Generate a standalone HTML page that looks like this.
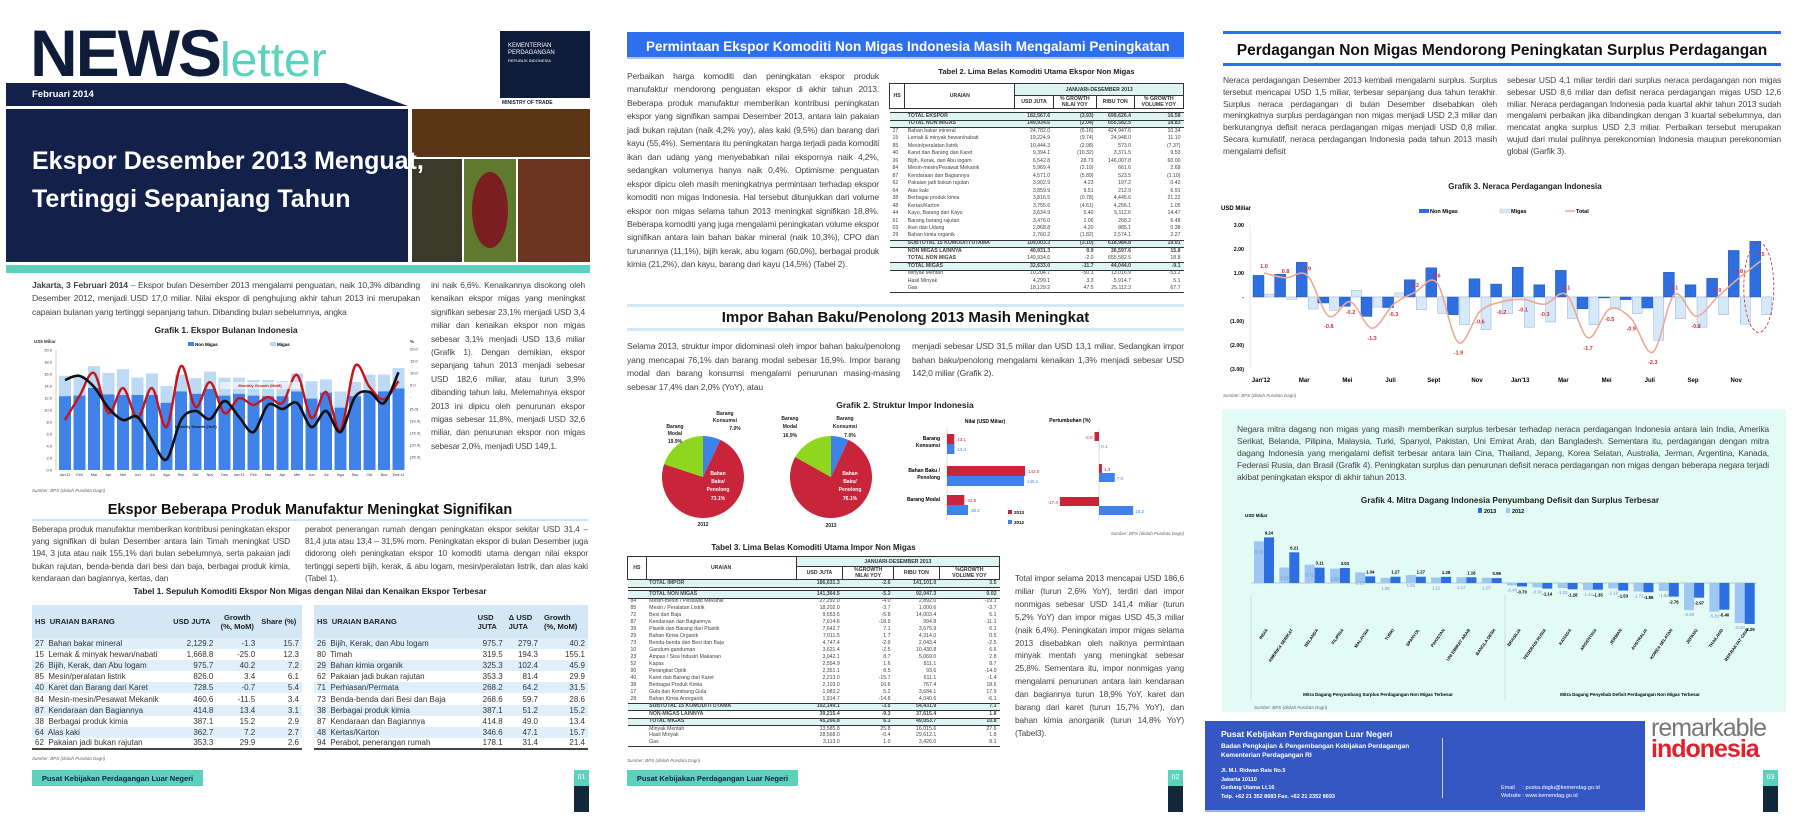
<!DOCTYPE html>
<html><head><meta charset="utf-8">
<style>
*{margin:0;padding:0;box-sizing:border-box}
body{width:1811px;height:818px;position:relative;background:#fff;font-family:"Liberation Sans",sans-serif;overflow:hidden;color:#333}
.a{position:absolute}
.p{position:absolute;font-size:8.7px;line-height:13.4px;text-align:justify;color:#444;letter-spacing:-0.15px}
.nb{font-family:"Liberation Sans",sans-serif;font-weight:bold}
table{border-collapse:collapse}
.t1 td{font-size:8px;height:11.1px;padding:0 3px;white-space:nowrap;color:#333}
.t1 tr:nth-child(even) td{background:#e1effa}
.t1 th{background:#d4e7f5;font-size:7.6px;height:33px;padding:0 3px;text-align:left;color:#222}
.tt td{font-size:5.2px;padding:0 3px;white-space:nowrap;color:#444;line-height:1}
.tt th{font-size:5.2px;font-weight:bold;color:#333;border:1px solid #333;padding:0 2px;background:#fff}
.tt .hl td{background:#dff5f1;font-weight:bold;border-top:1px solid #333;border-bottom:1px solid #333}
.r{text-align:right}
</style></head><body>

<!-- PANEL 1 -->
<div class="a nb" style="left:30px;top:20px;font-size:66px;color:#0e1c3a;letter-spacing:-2px;line-height:66px">NEWS<span style="color:#5bd3bc;font-size:48px;font-weight:normal;letter-spacing:0">letter</span></div>
<div class="a" style="left:500px;top:31px;width:90px;height:67px;background:#0e1c3a;color:#fff;font-size:6px;padding:12px 8px;line-height:7px">KEMENTERIAN<br>PERDAGANGAN<br><span style="font-size:4px">REPUBLIK INDONESIA</span></div>
<div class="a nb" style="left:502px;top:100px;font-size:5px;color:#0e1c3a">MINISTRY OF TRADE</div>
<svg class="a" style="left:0;top:0" width="600" height="280">
<polygon points="6,83 345,83 408,106 6,106" fill="#13204a"/>
<rect x="6" y="109" width="402" height="153" fill="#13204a"/>
<rect x="412" y="109" width="178" height="48" fill="#5a3516"/>
<rect x="412" y="159" width="50" height="103" fill="#3b3a2a"/>
<rect x="464" y="159" width="52" height="103" fill="#5f7a2f"/>
<ellipse cx="490" cy="210" rx="18" ry="38" fill="#7a1e22"/>
<rect x="518" y="159" width="72" height="103" fill="#6b3320"/>
<rect x="6" y="265" width="584" height="8" fill="#5bd3bc"/>
</svg>
<div class="a nb" style="left:32px;top:89px;font-size:9.5px;color:#fff">Februari 2014</div>
<div class="a nb" style="left:32px;top:142px;font-size:25px;line-height:38px;color:#fff">Ekspor Desember 2013 Menguat,<br>Tertinggi Sepanjang Tahun</div>

<div class="p" style="left:32px;top:279px;width:388px;font-size:8.6px"><b>Jakarta, 3 Februari 2014</b> – Ekspor bulan Desember 2013 mengalami penguatan, naik 10,3% dibanding Desember 2012, menjadi USD 17,0 miliar. Nilai ekspor di penghujung akhir tahun 2013 ini merupakan capaian bulanan yang tertinggi sepanjang tahun. Dibanding bulan sebelumnya, angka</div>
<div class="p" style="left:431px;top:279px;width:154px;font-size:8.4px">ini naik 6,6%. Kenaikannya disokong oleh kenaikan ekspor migas yang meningkat signifikan sebesar 23,1% menjadi USD 3,4 miliar dan kenaikan ekspor non migas sebesar 3,1% menjadi USD 13,6 miliar (Grafik 1). Dengan demikian, ekspor sepanjang tahun 2013 menjadi sebesar USD 182,6 miliar, atau turun 3,9% dibanding tahun lalu. Melemahnya ekspor 2013 ini dipicu oleh penurunan ekspor migas sebesar 11,8%, menjadi USD 32,6 miliar, dan penurunan ekspor non migas sebesar 2,0%, menjadi USD 149,1.</div>

<div class="a nb" style="left:32px;top:325px;width:388px;text-align:center;font-size:8.5px;color:#222">Grafik 1. Ekspor Bulanan Indonesia</div>
<svg class="a" id="c1" style="left:0;top:0" width="600" height="500"></svg>
<div class="a" style="left:32px;top:488px;font-size:4.5px;font-style:italic;color:#666">Sumber: BPS (diolah Pusdata Dagri)</div>

<div class="a nb" style="left:32px;top:502px;width:556px;text-align:center;font-size:14.5px;color:#111">Ekspor Beberapa Produk Manufaktur Meningkat Signifikan</div>
<div class="a" style="left:32px;top:519px;width:556px;height:2px;background:#cfe3f4"></div>
<div class="p" style="left:32px;top:523px;width:258px;line-height:12.2px;font-size:8.3px">Beberapa produk manufaktur memberikan kontribusi peningkatan ekspor yang signifikan di bulan Desember antara lain Timah meningkat USD 194, 3 juta atau naik 155,1% dari bulan sebelumnya, serta pakaian jadi bukan rajutan, benda-benda dari besi dan baja, berbagai produk kimia, kendaraan dan bagiannya, kertas, dan</div>
<div class="p" style="left:305px;top:523px;width:283px;line-height:12.2px;font-size:8.3px">perabot penerangan rumah dengan peningkatan ekspor sekitar USD 31,4 – 81,4 juta atau 13,4 – 31,5% mom. Peningkatan ekspor di bulan Desember juga didorong oleh peningkatan ekspor 10 komoditi utama dengan nilai ekspor tertinggi seperti bijih, kerak, &amp; abu logam, mesin/peralatan listrik, dan alas kaki (Tabel 1).</div>
<div class="a nb" style="left:32px;top:586px;width:556px;text-align:center;font-size:8.3px;color:#222">Tabel 1. Sepuluh Komoditi Ekspor Non Migas dengan Nilai dan Kenaikan Ekspor Terbesar</div>
<table class="a t1" style="left:32px;top:605px;width:270px;border-bottom:2px solid #444">
<tr><th>HS&nbsp; URAIAN BARANG</th><th class="r">USD JUTA</th><th class="r" style="text-align:center">Growth<br>(%, MoM)</th><th class="r">Share (%)</th></tr>
<tr><td>27&nbsp; Bahan bakar mineral</td><td class="r">2,129.2</td><td class="r">-1.3</td><td class="r">15.7</td></tr>
<tr><td>15&nbsp; Lemak &amp; minyak hewan/nabati</td><td class="r">1,668.8</td><td class="r">-25.0</td><td class="r">12.3</td></tr>
<tr><td>26&nbsp; Bijih, Kerak, dan Abu logam</td><td class="r">975.7</td><td class="r">40.2</td><td class="r">7.2</td></tr>
<tr><td>85&nbsp; Mesin/peralatan listrik</td><td class="r">826.0</td><td class="r">3.4</td><td class="r">6.1</td></tr>
<tr><td>40&nbsp; Karet dan Barang dari Karet</td><td class="r">728.5</td><td class="r">-0.7</td><td class="r">5.4</td></tr>
<tr><td>84&nbsp; Mesin-mesin/Pesawat Mekanik</td><td class="r">460.6</td><td class="r">-11.5</td><td class="r">3.4</td></tr>
<tr><td>87&nbsp; Kendaraan dan Bagiannya</td><td class="r">414.8</td><td class="r">13.4</td><td class="r">3.1</td></tr>
<tr><td>38&nbsp; Berbagai produk kimia</td><td class="r">387.1</td><td class="r">15.2</td><td class="r">2.9</td></tr>
<tr><td>64&nbsp; Alas kaki</td><td class="r">362.7</td><td class="r">7.2</td><td class="r">2.7</td></tr>
<tr><td>62&nbsp; Pakaian jadi bukan rajutan</td><td class="r">353.3</td><td class="r">29.9</td><td class="r">2.6</td></tr>
</table>
<table class="a t1" style="left:314px;top:605px;width:274px;border-bottom:2px solid #444">
<tr><th>HS&nbsp; URAIAN BARANG</th><th class="r">USD<br>JUTA</th><th class="r">Δ USD<br>JUTA</th><th class="r">Growth<br>(%, MoM)</th></tr>
<tr><td>26&nbsp; Bijih, Kerak, dan Abu logam</td><td class="r">975.7</td><td class="r">279.7</td><td class="r">40.2</td></tr>
<tr><td>80&nbsp; Timah</td><td class="r">319.5</td><td class="r">194.3</td><td class="r">155.1</td></tr>
<tr><td>29&nbsp; Bahan kimia organik</td><td class="r">325.3</td><td class="r">102.4</td><td class="r">45.9</td></tr>
<tr><td>62&nbsp; Pakaian jadi bukan rajutan</td><td class="r">353.3</td><td class="r">81.4</td><td class="r">29.9</td></tr>
<tr><td>71&nbsp; Perhiasan/Permata</td><td class="r">268.2</td><td class="r">64.2</td><td class="r">31.5</td></tr>
<tr><td>73&nbsp; Benda-benda dari Besi dan Baja</td><td class="r">268.6</td><td class="r">59.7</td><td class="r">28.6</td></tr>
<tr><td>38&nbsp; Berbagai produk kimia</td><td class="r">387.1</td><td class="r">51.2</td><td class="r">15.2</td></tr>
<tr><td>87&nbsp; Kendaraan dan Bagiannya</td><td class="r">414.8</td><td class="r">49.0</td><td class="r">13.4</td></tr>
<tr><td>48&nbsp; Kertas/Karton</td><td class="r">346.6</td><td class="r">47.1</td><td class="r">15.7</td></tr>
<tr><td>94&nbsp; Perabot, penerangan rumah</td><td class="r">178.1</td><td class="r">31.4</td><td class="r">21.4</td></tr>
</table>
<div class="a" style="left:32px;top:756px;font-size:4.5px;font-style:italic;color:#666">Sumber: BPS (diolah Pusdata Dagri)</div>
<div class="a nb" style="left:32px;top:770px;width:171px;height:16px;background:#5bd3bc;font-size:7.5px;color:#13204a;padding-top:4px;text-align:center">Pusat Kebijakan Perdagangan Luar Negeri</div>
<div class="a" style="left:574px;top:770px;width:15px;height:16px;background:#5bd3bc;color:#fff;font-size:7px;text-align:center;padding-top:4px">01</div>
<div class="a" style="left:574px;top:786px;width:15px;height:26px;background:#13283a"></div>

<!-- PANEL 2 -->
<div class="a nb" style="left:627px;top:32px;width:557px;height:27px;background:#2e6ff0;color:#fff;font-size:13.5px;padding:7px 0 0 19px;border-bottom:2px solid #a9c6f5">Permintaan Ekspor Komoditi Non Migas Indonesia Masih Mengalami Peningkatan</div>
<div class="p" style="left:627px;top:70px;width:252px;line-height:13.45px;font-size:8.5px">Perbaikan harga komoditi dan peningkatan ekspor produk manufaktur mendorong penguatan ekspor di akhir tahun 2013. Beberapa produk manufaktur memberikan kontribusi peningkatan ekspor yang signifikan sampai Desember 2013, antara lain pakaian jadi bukan rajutan (naik 4,2% yoy), alas kaki (9,5%) dan barang dari kayu (55,4%). Sementara itu peningkatan harga terjadi pada komoditi ikan dan udang yang menyebabkan nilai ekspornya naik 4,2%, sedangkan volumenya hanya naik 0,4%. Optimisme penguatan ekspor dipicu oleh masih meningkatnya permintaan terhadap ekspor komoditi non migas Indonesia. Hal tersebut ditunjukkan dari volume ekspor non migas selama tahun 2013 meningkat signifikan 18,8%. Beberapa komoditi yang juga mengalami peningkatan volume ekspor signifikan antara lain bahan bakar mineral (naik 10,3%), CPO dan turunannya (11,1%), bijih kerak, abu logam (60,0%), berbagai produk kimia (21,2%), dan kayu, barang dari kayu (14,5%) (Tabel 2).</div>
<div class="a nb" style="left:889px;top:67px;width:295px;text-align:center;font-size:7.5px;color:#222">Tabel 2. Lima Belas Komoditi Utama Ekspor Non Migas</div>
<table class="a tt" style="left:889px;top:83px;width:295px;border-bottom:1px solid #333">
<tr style="height:12px"><th rowspan="2">HS</th><th rowspan="2">URAIAN</th><th colspan="4" style="background:#dff5f1">JANUARI-DESEMBER 2013</th></tr>
<tr style="height:13px"><th>USD JUTA</th><th>% GROWTH<br>NILAI YOY</th><th>RIBU TON</th><th>% GROWTH<br>VOLUME YOY</th></tr>
<tr style="height:4px"><td colspan="6"></td></tr>
<tr class="hl" style="height:7.5px"><td></td><td>TOTAL EKSPOR</td><td class="r">182,567.6</td><td class="r">(3.93)</td><td class="r">699,626.4</td><td class="r">16.58</td></tr>
<tr class="hl" style="height:7.5px"><td></td><td>TOTAL NON MIGAS</td><td class="r">149,934.6</td><td class="r">(2.04)</td><td class="r">655,582.5</td><td class="r">18.83</td></tr>
<tr style="height:7.5px"><td>27</td><td>Bahan bakar mineral</td><td class="r">24,782.0</td><td class="r">(6.16)</td><td class="r">424,947.6</td><td class="r">10.34</td></tr>
<tr style="height:7.5px"><td>15</td><td>Lemak &amp; minyak hewan/nabati</td><td class="r">19,224.9</td><td class="r">(9.74)</td><td class="r">24,948.0</td><td class="r">11.10</td></tr>
<tr style="height:7.5px"><td>85</td><td>Mesin/peralatan listrik</td><td class="r">10,444.3</td><td class="r">(2.98)</td><td class="r">573.0</td><td class="r">(7.37)</td></tr>
<tr style="height:7.5px"><td>40</td><td>Karet dan Barang dari Karet</td><td class="r">9,394.1</td><td class="r">(10.32)</td><td class="r">3,371.5</td><td class="r">9.53</td></tr>
<tr style="height:7.5px"><td>26</td><td>Bijih, Kerak, dan Abu logam</td><td class="r">6,542.8</td><td class="r">28.73</td><td class="r">146,007.8</td><td class="r">60.00</td></tr>
<tr style="height:7.5px"><td>84</td><td>Mesin-mesin/Pesawat Mekanik</td><td class="r">5,969.4</td><td class="r">(2.19)</td><td class="r">661.6</td><td class="r">2.68</td></tr>
<tr style="height:7.5px"><td>87</td><td>Kendaraan dan Bagiannya</td><td class="r">4,571.0</td><td class="r">(5.89)</td><td class="r">523.5</td><td class="r">(1.10)</td></tr>
<tr style="height:7.5px"><td>62</td><td>Pakaian jadi bukan rajutan</td><td class="r">3,902.9</td><td class="r">4.23</td><td class="r">197.2</td><td class="r">0.42</td></tr>
<tr style="height:7.5px"><td>64</td><td>Alas kaki</td><td class="r">3,859.9</td><td class="r">9.51</td><td class="r">212.9</td><td class="r">6.91</td></tr>
<tr style="height:7.5px"><td>38</td><td>Berbagai produk kimia</td><td class="r">3,816.5</td><td class="r">(0.78)</td><td class="r">4,445.6</td><td class="r">21.22</td></tr>
<tr style="height:7.5px"><td>48</td><td>Kertas/Karton</td><td class="r">3,755.6</td><td class="r">(4.61)</td><td class="r">4,256.1</td><td class="r">1.05</td></tr>
<tr style="height:7.5px"><td>44</td><td>Kayu, Barang dari Kayu</td><td class="r">3,634.9</td><td class="r">5.40</td><td class="r">5,112.6</td><td class="r">14.47</td></tr>
<tr style="height:7.5px"><td>61</td><td>Barang barang rajutan</td><td class="r">3,476.0</td><td class="r">1.06</td><td class="r">268.2</td><td class="r">6.48</td></tr>
<tr style="height:7.5px"><td>03</td><td>Ikan dan Udang</td><td class="r">2,868.8</td><td class="r">4.20</td><td class="r">885.1</td><td class="r">0.38</td></tr>
<tr style="height:7.5px"><td>29</td><td>Bahan kimia organik</td><td class="r">2,760.2</td><td class="r">(1.82)</td><td class="r">2,574.1</td><td class="r">2.27</td></tr>
<tr class="hl" style="height:7.5px"><td></td><td>SUBTOTAL 15 KOMODITI UTAMA</td><td class="r">109,003.3</td><td class="r">(3.10)</td><td class="r">618,984.8</td><td class="r">19.01</td></tr>
<tr style="height:7.5px;font-weight:bold"><td></td><td><b>NON MIGAS LAINNYA</b></td><td class="r">40,931.3</td><td class="r">0.9</td><td class="r">36,597.6</td><td class="r">15.8</td></tr>
<tr style="height:7.5px"><td></td><td><b>TOTAL NON MIGAS</b></td><td class="r">149,934.6</td><td class="r">-2.0</td><td class="r">655,582.5</td><td class="r">18.8</td></tr>
<tr class="hl" style="height:7.5px"><td></td><td>TOTAL MIGAS</td><td class="r">32,633.0</td><td class="r">-11.7</td><td class="r">44,044.0</td><td class="r">-9.1</td></tr>
<tr style="height:7.5px"><td></td><td>Minyak Mentah</td><td class="r">10,204.7</td><td class="r">-50.3</td><td class="r">13,016.9</td><td class="r">-53.2</td></tr>
<tr style="height:7.5px"><td></td><td>Hasil Minyak</td><td class="r">4,299.1</td><td class="r">3.3</td><td class="r">5,914.7</td><td class="r">5.1</td></tr>
<tr style="height:7.5px"><td></td><td>Gas</td><td class="r">18,129.2</td><td class="r">47.5</td><td class="r">25,112.3</td><td class="r">67.7</td></tr>
</table>

<div class="a" style="left:627px;top:304px;width:557px;height:3px;background:#d3e8f7"></div>
<div class="a nb" style="left:627px;top:309px;width:557px;text-align:center;font-size:15px;color:#111">Impor Bahan Baku/Penolong 2013 Masih Meningkat</div>
<div class="a" style="left:627px;top:328px;width:557px;height:3px;background:#d3e8f7"></div>
<div class="p" style="left:627px;top:340px;width:273px;line-height:13.7px;font-size:8.6px">Selama 2013, struktur impor didominasi oleh impor bahan baku/penolong yang mencapai 76,1% dan barang modal sebesar 16,9%. Impor barang modal dan barang konsumsi mengalami penurunan masing-masing sebesar 17,4% dan 2,0% (YoY), atau</div>
<div class="p" style="left:912px;top:340px;width:272px;line-height:13.7px;font-size:8.6px">menjadi sebesar USD 31,5 miliar dan USD 13,1 miliar. Sedangkan impor bahan baku/penolong mengalami kenaikan 1,3% menjadi sebesar USD 142,0 miliar (Grafik 2).</div>
<div class="a nb" style="left:800px;top:400px;width:210px;text-align:center;font-size:8.5px;color:#222">Grafik 2. Struktur Impor Indonesia</div>
<svg class="a" id="c2" style="left:0;top:0" width="1200" height="560"></svg>

<div class="a nb" style="left:627px;top:543px;width:373px;text-align:center;font-size:8px;color:#222">Tabel 3. Lima Belas Komoditi Utama Impor Non Migas</div>
<table class="a tt" style="left:627px;top:556px;width:373px;border-bottom:1px solid #333">
<tr style="height:10px"><th rowspan="2">HS</th><th rowspan="2" style="width:150px">URAIAN</th><th colspan="4" style="background:#dff5f1">JANUARI-DESEMBER 2013</th></tr>
<tr style="height:13px"><th>USD JUTA</th><th>%GROWTH<br>NILAI YOY</th><th>RIBU TON</th><th>%GROWTH<br>VOLUME YOY</th></tr>
<tr class="hl" style="height:8px"><td></td><td>TOTAL IMPOR</td><td class="r">186,631.3</td><td class="r">-2.6</td><td class="r">141,101.0</td><td class="r">3.5</td></tr>
<tr style="height:3px"><td colspan="6"></td></tr>
<tr class="hl" style="height:7.5px"><td></td><td>TOTAL NON MIGAS</td><td class="r">141,364.5</td><td class="r">-5.2</td><td class="r">92,047.3</td><td class="r">0.02</td></tr>
<tr style="height:7px"><td>84</td><td>Mesin-mesin / Pesawat Mekanik</td><td class="r">27,292.0</td><td class="r">-4.0</td><td class="r">2,892.0</td><td class="r">-19.1</td></tr>
<tr style="height:7px"><td>85</td><td>Mesin / Peralatan Listrik</td><td class="r">18,202.0</td><td class="r">-3.7</td><td class="r">1,000.6</td><td class="r">-3.7</td></tr>
<tr style="height:7px"><td>72</td><td>Besi dan Baja</td><td class="r">9,553.6</td><td class="r">-5.8</td><td class="r">14,003.4</td><td class="r">5.1</td></tr>
<tr style="height:7px"><td>87</td><td>Kendaraan dan Bagiannya</td><td class="r">7,914.6</td><td class="r">-18.9</td><td class="r">994.8</td><td class="r">-11.1</td></tr>
<tr style="height:7px"><td>39</td><td>Plastik dan Barang dari Plastik</td><td class="r">7,642.7</td><td class="r">7.1</td><td class="r">3,675.9</td><td class="r">6.1</td></tr>
<tr style="height:7px"><td>29</td><td>Bahan Kimia Organik</td><td class="r">7,011.5</td><td class="r">1.7</td><td class="r">4,314.0</td><td class="r">0.5</td></tr>
<tr style="height:7px"><td>73</td><td>Benda-benda dari Besi dan Baja</td><td class="r">4,747.4</td><td class="r">-2.9</td><td class="r">2,043.4</td><td class="r">-2.5</td></tr>
<tr style="height:7px"><td>10</td><td>Gandum-ganduman</td><td class="r">3,621.4</td><td class="r">-2.5</td><td class="r">10,430.8</td><td class="r">6.6</td></tr>
<tr style="height:7px"><td>23</td><td>Ampas / Sisa Industri Makanan</td><td class="r">3,042.1</td><td class="r">8.7</td><td class="r">5,069.0</td><td class="r">2.8</td></tr>
<tr style="height:7px"><td>52</td><td>Kapas</td><td class="r">2,554.9</td><td class="r">1.6</td><td class="r">811.1</td><td class="r">8.7</td></tr>
<tr style="height:7px"><td>90</td><td>Perangkat Optik</td><td class="r">2,351.1</td><td class="r">8.5</td><td class="r">93.6</td><td class="r">-14.0</td></tr>
<tr style="height:7px"><td>40</td><td>Karet dan Barang dari Karet</td><td class="r">2,213.0</td><td class="r">-15.7</td><td class="r">611.1</td><td class="r">-1.4</td></tr>
<tr style="height:7px"><td>38</td><td>Berbagai Produk Kimia</td><td class="r">2,103.0</td><td class="r">16.6</td><td class="r">767.4</td><td class="r">18.6</td></tr>
<tr style="height:7px"><td>17</td><td>Gula dan Kembang Gula</td><td class="r">1,983.2</td><td class="r">5.2</td><td class="r">3,684.1</td><td class="r">17.9</td></tr>
<tr style="height:7px"><td>28</td><td>Bahan Kimia Anorganik</td><td class="r">1,914.7</td><td class="r">-14.8</td><td class="r">4,040.6</td><td class="r">-6.1</td></tr>
<tr class="hl" style="height:7.5px"><td></td><td>SUBTOTAL 15 KOMODITI UTAMA</td><td class="r">102,149.1</td><td class="r">-3.5</td><td class="r">54,431.9</td><td class="r">7.1</td></tr>
<tr style="height:7.5px;font-weight:bold"><td></td><td><b>NON-MIGAS LAINNYA</b></td><td class="r">39,215.4</td><td class="r">-9.3</td><td class="r">37,615.4</td><td class="r">1.8</td></tr>
<tr class="hl" style="height:7.5px"><td></td><td>TOTAL MIGAS</td><td class="r">45,266.8</td><td class="r">6.3</td><td class="r">49,053.7</td><td class="r">10.8</td></tr>
<tr style="height:7px"><td></td><td>Minyak Mentah</td><td class="r">13,585.8</td><td class="r">25.8</td><td class="r">16,015.6</td><td class="r">27.6</td></tr>
<tr style="height:7px"><td></td><td>Hasil Minyak</td><td class="r">28,568.0</td><td class="r">-0.4</td><td class="r">29,612.1</td><td class="r">1.8</td></tr>
<tr style="height:7px"><td></td><td>Gas</td><td class="r">3,113.0</td><td class="r">1.0</td><td class="r">3,426.0</td><td class="r">8.1</td></tr>
</table>
<div class="a" style="left:627px;top:758px;font-size:4.5px;font-style:italic;color:#666">Sumber: BPS (diolah Pusdata Dagri)</div>
<div class="p" style="left:1015px;top:572px;width:169px;line-height:12.9px;font-size:8.4px">Total impor selama 2013 mencapai USD 186,6 miliar (turun 2,6% YoY), terdiri dari impor nonmigas sebesar USD 141,4 miliar (turun 5,2% YoY) dan impor migas USD 45,3 miliar (naik 6,4%). Peningkatan impor migas selama 2013 disebabkan oleh naiknya permintaan minyak mentah yang meningkat sebesar 25,8%. Sementara itu, impor nonmigas yang mengalami penurunan antara lain kendaraan dan bagiannya turun 18,9% YoY, karet dan barang dari karet (turun 15,7% YoY), dan bahan kimia anorganik (turun 14,8% YoY) (Tabel3).</div>
<div class="a nb" style="left:627px;top:770px;width:171px;height:16px;background:#5bd3bc;font-size:7.5px;color:#13204a;padding-top:4px;text-align:center">Pusat Kebijakan Perdagangan Luar Negeri</div>
<div class="a" style="left:1168px;top:770px;width:15px;height:16px;background:#5bd3bc;color:#fff;font-size:7px;text-align:center;padding-top:4px">02</div>
<div class="a" style="left:1168px;top:786px;width:15px;height:26px;background:#13283a"></div>

<!-- PANEL 3 -->
<div class="a" style="left:1223px;top:31px;width:558px;height:3px;background:#2e6ff0"></div>
<div class="a nb" style="left:1223px;top:42px;width:558px;text-align:center;font-size:15.5px;color:#111">Perdagangan Non Migas Mendorong Peningkatan Surplus Perdagangan</div>
<div class="a" style="left:1223px;top:63px;width:558px;height:3px;background:#2e6ff0"></div>
<div class="p" style="left:1223px;top:75px;width:274px;line-height:11.8px;font-size:8.4px">Neraca perdagangan Desember 2013 kembali mengalami surplus. Surplus tersebut mencapai USD 1,5 miliar, terbesar sepanjang dua tahun terakhir. Surplus neraca perdagangan di bulan Desember disebabkan oleh meningkatnya surplus perdagangan non migas menjadi USD 2,3 miliar dan berkurangnya defisit neraca perdagangan migas menjadi USD 0,8 miliar. Secara kumulatif, neraca perdagangan Indonesia pada tahun 2013 masih mengalami defisit</div>
<div class="p" style="left:1507px;top:75px;width:274px;line-height:11.8px;font-size:8.4px">sebesar USD 4,1 miliar terdiri dari surplus neraca perdagangan non migas sebesar USD 8,6 miliar dan defisit neraca perdagangan migas USD 12,6 miliar. Neraca perdagangan Indonesia pada kuartal akhir tahun 2013 sudah mengalami perbaikan jika dibandingkan dengan 3 kuartal sebelumnya, dan mencatat angka surplus USD 2,3 miliar. Perbaikan tersebut merupakan wujud dari mulai pulihnya perekonomian Indonesia maupun perekonomian global (Garfik 3).</div>
<div class="a nb" style="left:1400px;top:182px;width:250px;text-align:center;font-size:8px;color:#222">Grafik 3. Neraca Perdagangan Indonesia</div>
<svg class="a" id="c3" style="left:0;top:0" width="1811" height="400"></svg>
<div class="a" style="left:1223px;top:393px;font-size:4.5px;font-style:italic;color:#666">Sumber: BPS (diolah Pusdata Dagri)</div>

<div class="a" style="left:1222px;top:409px;width:564px;height:303px;background:#e3fbf5"></div>
<div class="p" style="left:1237px;top:423px;width:532px;line-height:12px;font-size:8.5px">Negara mitra dagang non migas yang masih memberikan surplus terbesar terhadap neraca perdagangan Indonesia antara lain India, Amerika Serikat, Belanda, Pilipina, Malaysia, Turki, Spanyol, Pakistan, Uni Emirat Arab, dan Bangladesh. Sementara itu, perdagangan dengan mitra dagang Indonesia yang mengalami defisit terbesar antara lain Cina, Thailand, Jepang, Korea Selatan, Australia, Jerman, Argentina, Kanada, Federasi Rusia, dan Brasil (Grafik 4). Peningkatan surplus dan penurunan defisit neraca perdagangan non migas dengan beberapa negara terjadi akibat peningkatan ekspor di akhir tahun 2013.</div>
<div class="a nb" style="left:1300px;top:495px;width:420px;text-align:center;font-size:8.3px;color:#222">Grafik 4. Mitra Dagang Indonesia Penyumbang Defisit dan Surplus Terbesar</div>
<svg class="a" id="c4" style="left:0;top:0" width="1811" height="712"></svg>
<div class="a" style="left:1254px;top:705px;font-size:4.5px;font-style:italic;color:#666">Sumber: BPS (diolah Pusdata Dagri)</div>

<div class="a" style="left:1205px;top:721px;width:440px;height:91px;background:#3557c4;color:#fff;border-bottom:2px solid #9fb2ea">
<div class="nb" style="position:absolute;left:16px;top:8px;font-size:8.5px">Pusat Kebijakan Perdagangan Luar Negeri</div>
<div style="position:absolute;left:16px;top:21px;font-size:6.5px;line-height:9px;font-weight:bold">Badan Pengkajian &amp; Pengembangan Kebijakan Perdagangan<br>Kementerian Perdagangan RI</div>
<div style="position:absolute;left:16px;top:46px;font-size:5.5px;line-height:8.5px;font-weight:bold">Jl. M.I. Ridwan Rais No.5<br>Jakarta 10110<br>Gedung Utama Lt.16<br>Telp. +62 21 352 8683 Fax. +62 21 2352 8693</div>
<div style="position:absolute;left:237px;top:17px;width:1px;height:60px;background:#c8d2f2"></div>
<div style="position:absolute;left:296px;top:63px;font-size:5.5px;line-height:8px">Email &nbsp; &nbsp; : puska.daglu@kemendag.go.id<br>Website : www.kemendag.go.id</div>
</div>
<div class="a" style="left:1651px;top:718px;font-size:25px;line-height:21px;color:#777;letter-spacing:-1px">remarkable<br><span style="color:#e2202a;font-weight:bold">indonesia</span></div>
<div class="a" style="left:1763px;top:770px;width:15px;height:16px;background:#5bd3bc;color:#fff;font-size:7px;text-align:center;padding-top:4px">03</div>
<div class="a" style="left:1763px;top:786px;width:15px;height:26px;background:#13283a"></div>

<script>
// ---------- Chart 1 data ----------
const c1Months = ["Jan'12","Feb","Mar","Apr","Mei","Jun","Jul","Agu","Sep","Okt","Nov","Des","Jan'13","Feb","Mar","Apr","Mei","Jun","Jul","Agu","Sep","Okt","Nov","Des'13"];
const c1NonMigas = [12.3,12.4,13.7,12.6,12.5,12.5,12.5,11.2,13.1,12.7,13.5,12.4,12.7,12.4,12.3,12.3,13.1,11.9,12.9,10.4,12.3,13.1,13.1,13.6];
const c1Total = [15.7,15.6,17.3,16.2,16.8,15.4,16.1,14.0,15.9,15.3,16.4,15.4,15.4,15.0,15.0,14.8,16.1,14.8,15.1,13.1,14.7,15.9,15.9,17.0];
const c1MoM = [-9.6,0.4,10,-6.7,3.7,-8.7,3.7,-12.5,12.9,-4.2,6.2,-6.7,-0.5,-3.3,0,-2.5,9.2,-8.7,2.1,-13.8,12.9,4.2,-1,6.6];
const c1YoY = [7.1,8.8,4.2,-4.6,-9.6,-8.3,-18,-26,-9.6,-5.8,-9.2,-1.7,-8.3,-14.6,-3.3,-5,-2.5,-12.5,-5.8,-14.6,0,2.1,-2.5,10.3];
const c1LeftTicks = [0,2,4,6,8,10,12,14,16,18,20];
const c1RightTicks = [-25,-20,-15,-10,-5,0,5,10,15,20];

// ---------- Chart 2 data ----------
const pieLabels = ["Barang Konsumsi","Bahan Baku/Penolong","Barang Modal"];
const pie2012 = [7.0,73.1,19.9];
const pie2013 = [7.0,76.1,16.9];
const nilai2013 = [13.1,142.0,31.5];
const nilai2012 = [13.4,140.1,38.2];
const growth2013 = [-2.0,1.3,-17.4];
const growth2012 = [0.1,7.0,15.2];

// ---------- Chart 3 data ----------
const c3Months = ["Jan'12","Mar","Mei","Juli","Sept","Nov","Jan'13","Mar","Mei","Juli","Sep","Nov"];
const c3NonMigas = [0.9,0.95,1.45,-0.25,-0.39,-0.81,-0.44,0.72,1.22,-0.74,0.76,0.54,1.24,0.51,1.11,-0.49,-0.04,-0.11,-0.46,1.03,0.51,0.78,1.94,2.32];
const c3Migas = [0.12,-0.1,-0.5,-0.55,0.28,-0.42,0.17,-0.53,-0.69,-1.15,-1.36,-0.7,-1.26,-1.04,-0.9,-1.15,-0.46,-0.69,-1.8,-0.9,-1.26,-0.74,-1.13,-0.74];
const c3Total = [1.0,0.8,0.9,-0.8,-0.2,-1.3,-0.3,0.2,0.6,-1.9,-0.6,-0.2,-0.1,-0.3,0.1,-1.7,-0.5,-0.9,-2.3,0.1,-0.8,0.0,0.8,1.5];
const c3Ticks = [3,2,1,0,-1,-2,-3];

// ---------- Chart 4 data ----------
const c4Countries = ["INDIA","AMERIKA SERIKAT","BELANDA","FILIPINA","MALAYSIA","TURKI","SPANYOL","PAKISTAN","UNI EMIRAT ARAB","BANGLA DESH","BRASILIA","FEDERASI RUSIA","KANADA","ARGENTINA","JERMAN","AUSTRALIA","KOREA SELATAN","JEPANG","THAILAND","REP.RAKYAT CINA"];
const c4Y2013 = [9.24,6.21,3.11,3.03,1.34,1.27,1.27,1.25,1.16,0.99,-0.70,-1.14,-1.28,-1.35,-1.53,-1.86,-2.76,-2.97,-5.40,-8.29];
const c4Y2012 = [8.43,3.13,3.71,2.89,2.15,1.06,1.61,1.11,1.17,1.07,-0.48,-0.91,-1.02,-1.44,-1.10,-1.72,-1.62,-5.49,-5.81,-8.10];

const NS="http://www.w3.org/2000/svg";
function mk(svg,tag,attrs,txt){const e=document.createElementNS(NS,tag);for(const k in attrs)e.setAttribute(k,attrs[k]);if(txt!==undefined)e.textContent=txt;svg.appendChild(e);return e;}
function smooth(pts){let d="M"+pts[0][0]+","+pts[0][1];for(let i=0;i<pts.length-1;i++){const p0=pts[i-1]||pts[i],p1=pts[i],p2=pts[i+1],p3=pts[i+2]||p2;d+=" C"+(p1[0]+(p2[0]-p0[0])/6)+","+(p1[1]+(p2[1]-p0[1])/6)+" "+(p2[0]-(p3[0]-p1[0])/6)+","+(p2[1]-(p3[1]-p1[1])/6)+" "+p2[0]+","+p2[1];}return d;}

// Chart 1
(function(){const s=document.getElementById('c1');
const x=i=>65+i*14.5, y=v=>470-v*6, yr=v=>397-v*2.4;
mk(s,'text',{x:34,y:343,'font-size':4.5,'font-weight':'bold',fill:'#333'},'US$ Miliar');
mk(s,'text',{x:410,y:343,'font-size':4.5,'font-weight':'bold',fill:'#333'},'%');
mk(s,'rect',{x:188,y:342,width:6,height:4,fill:'#3f83ea'});mk(s,'text',{x:195,y:346,'font-size':4.5,'font-weight':'bold'},'Non Migas');
mk(s,'rect',{x:270,y:342,width:6,height:4,fill:'#bcdaf6'});mk(s,'text',{x:277,y:346,'font-size':4.5,'font-weight':'bold'},'Migas');
c1LeftTicks.forEach(t=>{mk(s,'text',{x:52,y:y(t)+1.5,'font-size':4,'text-anchor':'end',fill:'#333'},t.toFixed(1));});
c1RightTicks.forEach(t=>{mk(s,'text',{x:410,y:yr(t)+1.5,'font-size':4,fill:'#333'},t===0?'-':(t<0?'('+(-t).toFixed(1)+')':t.toFixed(1)));});
mk(s,'line',{x1:56,y1:y(20),x2:56,y2:y(0),stroke:'#999','stroke-width':0.5});
c1Months.forEach((m,i)=>{
 const b1=mk(s,'rect',{x:x(i)-6,y:y(c1Total[i]),width:12,height:y(c1NonMigas[i])-y(c1Total[i]),fill:'#bcdaf6'});
 
 const b2=mk(s,'rect',{x:x(i)-6,y:y(c1NonMigas[i]),width:12,height:y(0)-y(c1NonMigas[i]),fill:'#3f83ea'});
 
 mk(s,'text',{x:x(i),y:476,'font-size':3.8,'text-anchor':'middle',fill:'#333'},m);
});
const l1=mk(s,'path',{d:smooth(c1MoM.map((v,i)=>[x(i),yr(v)])),fill:'none',stroke:'#c8141c','stroke-width':2.4});

const l2=mk(s,'path',{d:smooth(c1YoY.map((v,i)=>[x(i),yr(v)])),fill:'none',stroke:'#111','stroke-width':2.6});

mk(s,'rect',{x:220,y:382,width:80,height:7,fill:'#fff','fill-opacity':0.6});
mk(s,'text',{x:260,y:387,'font-size':4,'text-anchor':'middle',fill:'#c8141c','font-weight':'bold'},'Monthly Growth (MoM)');
mk(s,'text',{x:175,y:428,'font-size':4,'font-weight':'bold',fill:'#111'},'Monthly Growth (YoY)');
})();

// Chart 2
(function(){const s=document.getElementById('c2');
const cols=['#3f83ea','#c8243a','#8fd61f'];
function pie(cx,cy,r,vals,name){let a=0;const tot=vals.reduce((p,q)=>p+q,0);
 vals.forEach((v,i)=>{const a0=a/tot*2*Math.PI,a1=(a+v)/tot*2*Math.PI;a+=v;
  const p=mk(s,'path',{d:`M${cx},${cy} L${cx+r*Math.sin(a0)},${cy-r*Math.cos(a0)} A${r},${r} 0 ${(a1-a0)>Math.PI?1:0} 1 ${cx+r*Math.sin(a1)},${cy-r*Math.cos(a1)} Z`,fill:cols[i]});
  });}
pie(703,477,41,pie2012,'pie-2012');pie(831,477,41,pie2013,'pie-2013');
const lab=(x,y,t,c)=>mk(s,'text',{x:x,y:y,'font-size':5,'text-anchor':'middle','font-weight':'bold',fill:c||'#222'},t);
lab(675,428,'Barang');lab(675,435,'Modal');lab(675,443,pie2012[2].toFixed(1)+'%');
lab(725,415,'Barang');lab(725,422,'Konsumsi');lab(735,430,pie2012[0].toFixed(1)+'%');
lab(718,475,'Bahan','#fff');lab(718,483,'Baku/','#fff');lab(718,491,'Penolong','#fff');lab(718,500,pie2012[1].toFixed(1)+'%','#fff');
lab(790,420,'Barang');lab(790,428,'Modal');lab(790,437,pie2013[2].toFixed(1)+'%');
lab(845,420,'Barang');lab(845,428,'Konsumsi');lab(850,437,pie2013[0].toFixed(1)+'%');
lab(850,475,'Bahan','#fff');lab(850,483,'Baku/','#fff');lab(850,491,'Penolong','#fff');lab(850,500,pie2013[1].toFixed(1)+'%','#fff');
lab(703,526,'2012');lab(831,527,'2013');
const bx=v=>947+v*0.55, rows=[434,466,495];
mk(s,'text',{x:985,y:423,'font-size':5,'text-anchor':'middle','font-weight':'bold'},'Nilai (USD Miliar)');
mk(s,'line',{x1:947,y1:428,x2:947,y2:520,stroke:'#bbb','stroke-width':0.5});
const catL=[['Barang','Konsumsi'],['Bahan Baku /','Penolong'],['Barang Modal','']];
rows.forEach((ry,i)=>{
 mk(s,'text',{x:940,y:ry+6,'font-size':5,'text-anchor':'end','font-weight':'bold'},catL[i][0]);
 mk(s,'text',{x:940,y:ry+13,'font-size':5,'text-anchor':'end','font-weight':'bold'},catL[i][1]);
 const r1=mk(s,'rect',{x:947,y:ry,width:bx(nilai2013[i])-947,height:10,fill:'#c8243a'});
 const r2=mk(s,'rect',{x:947,y:ry+10,width:bx(nilai2012[i])-947,height:10,fill:'#3f83ea'});
 mk(s,'text',{x:bx(nilai2013[i])+3,y:ry+7,'font-size':4.5,fill:'#c8243a'},nilai2013[i].toFixed(1));
 mk(s,'text',{x:bx(nilai2012[i])+3,y:ry+17,'font-size':4.5,fill:'#3f83ea'},nilai2012[i].toFixed(1));
});
const gx=v=>1099+v*2.25, grows=[432,464,497];
mk(s,'text',{x:1070,y:422,'font-size':5,'text-anchor':'middle','font-weight':'bold'},'Pertumbuhan (%)');
mk(s,'line',{x1:1099,y1:428,x2:1099,y2:520,stroke:'#bbb','stroke-width':0.5});
grows.forEach((ry,i)=>{
 const a=growth2013[i],b=growth2012[i];
 const r1=mk(s,'rect',{x:Math.min(gx(a),1099),y:ry,width:Math.abs(gx(a)-1099),height:9,fill:'#c8243a'});
 const r2=mk(s,'rect',{x:Math.min(gx(b),1099),y:ry+9,width:Math.abs(gx(b)-1099),height:9,fill:'#3f83ea'});
 mk(s,'text',{x:a<0?gx(a)-2:gx(a)+2,y:ry+7,'font-size':4.5,fill:'#c8243a','text-anchor':a<0?'end':'start'},a.toFixed(1));
 mk(s,'text',{x:b<0?gx(b)-2:gx(b)+2,y:ry+16,'font-size':4.5,fill:'#3f83ea','text-anchor':b<0?'end':'start'},b.toFixed(1));
});
mk(s,'rect',{x:1008,y:510,width:4,height:4,fill:'#c8243a'});mk(s,'text',{x:1014,y:514,'font-size':4.5,'font-weight':'bold'},'2013');
mk(s,'rect',{x:1008,y:520,width:4,height:4,fill:'#3f83ea'});mk(s,'text',{x:1014,y:524,'font-size':4.5,'font-weight':'bold'},'2012');
mk(s,'text',{x:1184,y:535,'font-size':4.5,'font-style':'italic','text-anchor':'end',fill:'#666'},'Sumber: BPS (diolah Pusdata Dagri)');
})();

// Chart 3
(function(){const s=document.getElementById('c3');
const x=i=>1259+i*21.6, y=v=>297-v*24;
mk(s,'text',{x:1221,y:210,'font-size':6,'font-weight':'bold'},'USD Miliar');
mk(s,'rect',{x:1419,y:209,width:10,height:4,fill:'#2d6fe0'});mk(s,'text',{x:1430,y:213,'font-size':5.5,'font-weight':'bold'},'Non Migas');
mk(s,'rect',{x:1500,y:209,width:10,height:4,fill:'#d6e9fa',stroke:'#9bb','stroke-width':0.3});mk(s,'text',{x:1511,y:213,'font-size':5.5,'font-weight':'bold'},'Migas');
mk(s,'line',{x1:1565,y1:211,x2:1575,y2:211,stroke:'#eea898','stroke-width':1.5});mk(s,'text',{x:1576,y:213,'font-size':5.5,'font-weight':'bold'},'Total');
c3Ticks.forEach(t=>mk(s,'text',{x:1244,y:y(t)+2,'font-size':5.3,'text-anchor':'end','font-weight':'bold'},t===0?'-':(t<0?'('+(-t).toFixed(2)+')':t.toFixed(2))));
mk(s,'line',{x1:1250,y1:y(3),x2:1250,y2:y(-3),stroke:'#ccc','stroke-width':0.5});
mk(s,'line',{x1:1250,y1:y(0),x2:1775,y2:y(0),stroke:'#ccc','stroke-width':0.6});
c3NonMigas.forEach((v,i)=>{
 const b=mk(s,'rect',{x:x(i)-6,y:Math.min(y(v),y(0)),width:11,height:Math.abs(y(v)-y(0)),fill:'#2d6fe0',stroke:'#1c4aa0','stroke-width':0.4});
 
 const m=c3Migas[i];
 const b2=mk(s,'rect',{x:x(i)+6,y:Math.min(y(m),y(0)),width:10,height:Math.abs(y(m)-y(0)),fill:'#d6e9fa',stroke:'#8aa3b8','stroke-width':0.4});
 
});
const ln=mk(s,'path',{d:smooth(c3Total.map((v,i)=>[x(i)+5,y(v)])),fill:'none',stroke:'#eea898','stroke-width':1.6});

c3Total.forEach((v,i)=>{const ly=v>=0?y(v)-5:y(v)+12;
 mk(s,'text',{x:x(i)+5,y:ly,'font-size':5.5,'text-anchor':'middle',fill:'#d0303a','font-weight':'bold'},v.toFixed(1));});
c3Months.forEach((m,i)=>mk(s,'text',{x:x(i*2)+2,y:382,'font-size':6,'text-anchor':'middle','font-weight':'bold'},m));
const el=mk(s,'ellipse',{cx:x(23)+3,cy:y(0.4),rx:15,ry:45,fill:'none',stroke:'#d0202a','stroke-width':0.8,'stroke-dasharray':'3,2'});

})();

// Chart 4
(function(){const s=document.getElementById('c4');
const x=i=>1264+i*25.3, y=v=>583-v*4.94;
mk(s,'text',{x:1245,y:517,'font-size':4.5,'font-weight':'bold'},'USD Miliar');
mk(s,'rect',{x:1478,y:508,width:4,height:5,fill:'#2d6fe0'});mk(s,'text',{x:1484,y:513,'font-size':5.5,'font-weight':'bold'},'2013');
mk(s,'rect',{x:1506,y:508,width:4,height:5,fill:'#9fc7f3'});mk(s,'text',{x:1512,y:513,'font-size':5.5,'font-weight':'bold'},'2012');
mk(s,'line',{x1:1251,y1:583,x2:1757,y2:583,stroke:'#999','stroke-width':0.5});
mk(s,'line',{x1:1251,y1:595,x2:1251,y2:700,stroke:'#bbb','stroke-width':0.5});
mk(s,'line',{x1:1505,y1:595,x2:1505,y2:700,stroke:'#bbb','stroke-width':0.5});
c4Countries.forEach((c,i)=>{
 const a=c4Y2012[i],b=c4Y2013[i];
 const r1=mk(s,'rect',{x:x(i)-10,y:Math.min(y(a),583),width:10,height:Math.abs(y(a)-583),fill:'#9fc7f3'});
 const r2=mk(s,'rect',{x:x(i),y:Math.min(y(b),583),width:10,height:Math.abs(y(b)-583),fill:'#2d6fe0'});
 mk(s,'text',{x:x(i)+5,y:b>=0?y(b)-3:y(b)+7,'font-size':4.3,'text-anchor':'middle','font-weight':'bold'},b.toFixed(2));
 mk(s,'text',{x:x(i)-5,y:a>=0?y(a)+12:y(a)+6,'font-size':4.3,'text-anchor':'middle',fill:'#6a8fc8'},a.toFixed(2));
 mk(s,'text',{x:x(i)+4,y:630,'font-size':4.3,'font-weight':'bold','text-anchor':'end',transform:`rotate(-55 ${x(i)+4} 630)`},c);
});
mk(s,'text',{x:1378,y:696,'font-size':4.5,'font-weight':'bold','text-anchor':'middle'},'Mitra Dagang Penyumbang Surplus Perdagangan Non Migas Terbesar');
mk(s,'text',{x:1630,y:696,'font-size':4.5,'font-weight':'bold','text-anchor':'middle'},'Mitra Dagang Penyebab Defisit Perdagangan Non Migas Terbesar');
})();
</script>
</body></html>
